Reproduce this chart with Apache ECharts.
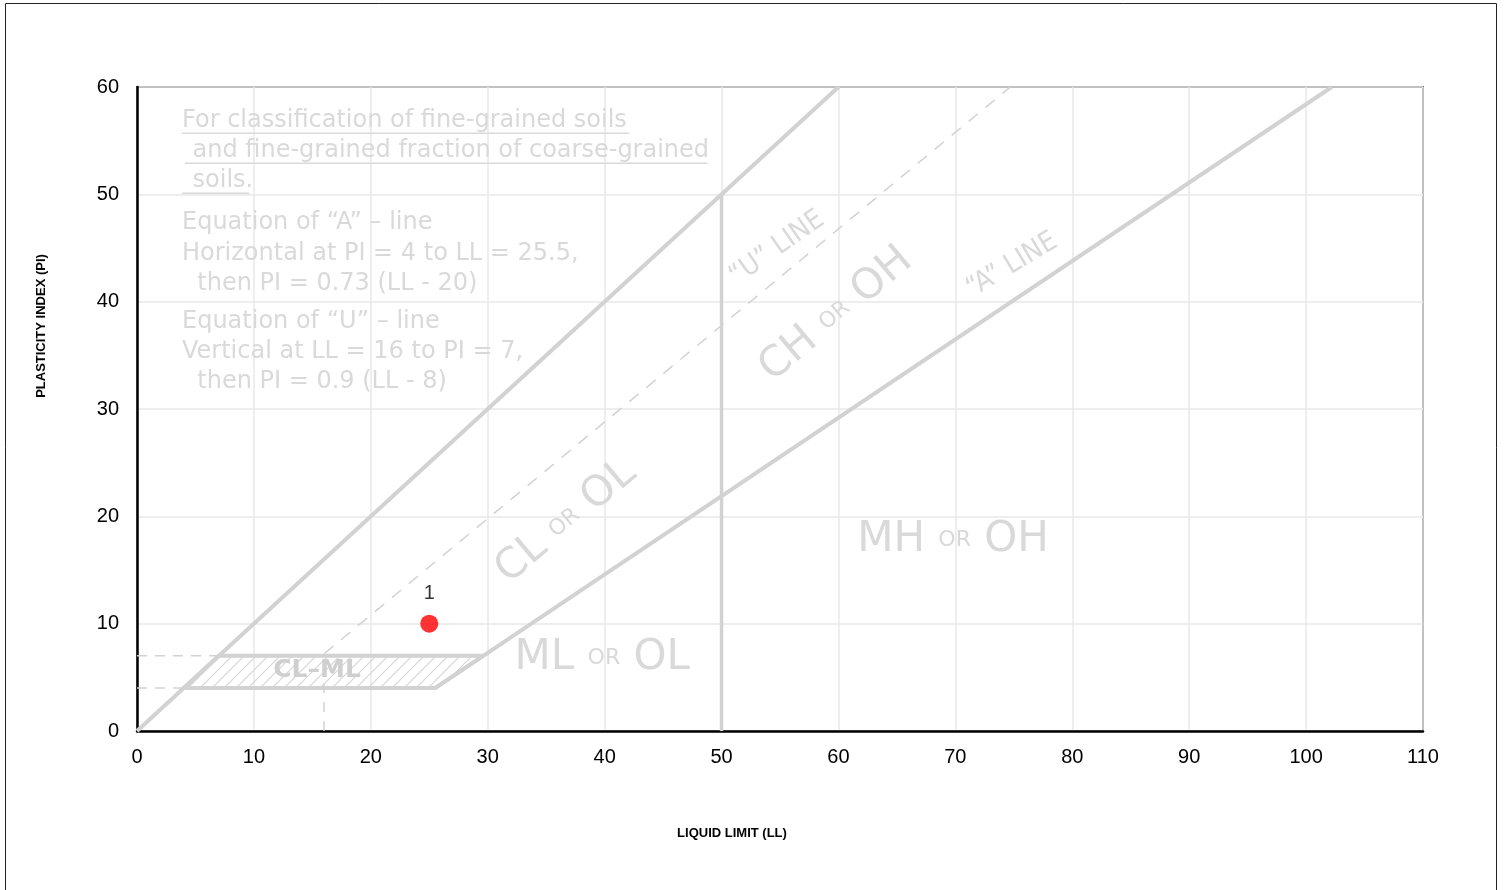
<!DOCTYPE html>
<html><head><meta charset="utf-8">
<script src="https://cdn.jsdelivr.net/npm/echarts@6/dist/echarts.min.js"></script>
<style>html,body{margin:0;padding:0;background:#fff}#c{width:1507px;height:890px}</style>
</head><body><div id="c"></div><script>
// ---- data (LL, PI) ----
const xRange = [0, 110];
const yRange = [0, 60];
const tickStep = 10;
const samples = [[25, 10, '1']];
const linePIeqLL = [[0, 0], [60, 60]];
const aLine = [[25.5, 4], [102.2, 60]];
const uLine = [[16, 7.2], [74.7, 60]];
const uVertical = [[16, 0], [16, 7]];
const llFifty = [[50, 0], [50, 50]];
const dashPI7 = [[0, 7], [7, 7]];
const dashPI4 = [[0, 4], [4, 4]];
const clmlZone = [[4, 4], [25.5, 4], [29.6, 7], [7, 7]];
const noteLines = [
  [3.85, 56.85, 'For classification of fine-grained soils'],
  [4.1, 54.05, ' and fine-grained fraction of coarse-grained'],
  [4.1, 51.26, ' soils.'],
  [3.85, 47.34, 'Equation of \u201cA\u201d \u2013 line'],
  [3.85, 44.45, 'Horizontal at PI = 4 to LL = 25.5,'],
  [3.85, 41.66, '  then PI = 0.73 (LL - 20)'],
  [3.85, 38.12, 'Equation of \u201cU\u201d \u2013 line'],
  [3.85, 35.32, 'Vertical at LL = 16 to PI = 7,'],
  [3.85, 32.53, '  then PI = 0.9 (LL - 8)']
];
const underlines = [
  [[3.85, 55.7], [42.1, 55.7]],
  [[4.1, 52.9], [48.8, 52.9]],
  [[3.85, 50.1], [9.6, 50.1]]
];
const zoneLabels = [
  [36.7, 19.5, 'CL', 'OL', 40],
  [59.8, 38.8, 'CH', 'OH', 40],
  [69.8, 17.8, 'MH', 'OH', 0],
  [39.8, 6.8, 'ML', 'OL', 0]
];
const lineLabels = [
  [54.75, 45.0, '\u201cU\u201d LINE', 35],
  [74.85, 43.4, '\u201cA\u201d LINE', 31]
];
const clmlLabel = [[15.4, 5.6, 'CL\u2013ML']];

// ---- styles ----
const GRAY = '#d2d2d2', TXT = '#d9d9d9', GRID = '#e8e8e8';
const pc = document.createElement('canvas'); pc.width = 12; pc.height = 12;
const g = pc.getContext('2d'); g.strokeStyle = '#d6d6d6'; g.lineWidth = 1.2;
g.beginPath(); g.moveTo(0, 12); g.lineTo(12, 0); g.moveTo(-6, 6); g.lineTo(6, -6); g.moveTo(6, 18); g.lineTo(18, 6); g.stroke();

function lineSeries(data, width, dash, color) {
  return { type: 'line', data: data, symbol: 'none', silent: true, z: 2,
    lineStyle: { color: color || GRAY, width: width, type: dash || 'solid' }, animation: false };
}
const chart = echarts.init(document.getElementById('c'), null, { renderer: 'canvas' });
chart.setOption({
  animation: false,
  backgroundColor: '#fff',
  grid: { left: 137, top: 87, right: 84, bottom: 159, show: true, borderColor: '#111', borderWidth: 1.5 },
  xAxis: { type: 'value', min: xRange[0], max: xRange[1], interval: tickStep,
    axisLine: { lineStyle: { color: '#000', width: 2.5 } }, axisTick: { show: false },
    axisLabel: { color: '#000', fontSize: 20, fontFamily: 'Liberation Sans, Arial', margin: 16 },
    splitLine: { lineStyle: { color: GRID, width: 1.5 } } },
  yAxis: { type: 'value', min: yRange[0], max: yRange[1], interval: tickStep,
    axisLine: { lineStyle: { color: '#000', width: 2.5 } }, axisTick: { show: false },
    axisLabel: { color: '#000', fontSize: 20, fontFamily: 'Liberation Sans, Arial', margin: 18 },
    splitLine: { lineStyle: { color: GRID, width: 1.5 } } },
  graphic: [
    { type: 'rect', shape: { x: 5.5, y: 3.5, width: 1491, height: 900 }, style: { fill: 'none', stroke: '#222', lineWidth: 1 }, z: 100 },
    { type: 'text', x: 732, y: 833, style: { text: 'LIQUID LIMIT (LL)', fill: '#000', font: 'bold 13px "Liberation Sans", Arial', align: 'center', verticalAlign: 'middle' } },
    { type: 'text', x: 41, y: 326, rotation: Math.PI / 2, style: { text: 'PLASTICITY INDEX (PI)', fill: '#000', font: 'bold 13px "Liberation Sans", Arial', align: 'center', verticalAlign: 'middle' } }
  ],
  series: [
    lineSeries(linePIeqLL, 4),
    lineSeries(aLine, 4),
    lineSeries(llFifty, 3.5),
    lineSeries(uLine, 1.5, [12, 10]),
    lineSeries(uVertical, 1.5, [10, 9]),
    lineSeries(dashPI7, 1.5, [10, 8]),
    lineSeries(dashPI4, 1.5, [10, 8]),
    ...underlines.map(u => lineSeries(u, 1.5, 'solid', TXT)),
    { type: 'custom', silent: true, z: 3, data: [0], renderItem: function (params, api) {
        const pts = clmlZone.map(p => api.coord(p));
        return { type: 'polygon', shape: { points: pts }, style: { fill: { image: pc, repeat: 'repeat' }, stroke: GRAY, lineWidth: 4 } };
      } },
    { type: 'custom', silent: true, z: 4, data: noteLines.map(d => [d[0], d[1]]), renderItem: function (params, api) {
        const p = api.coord([api.value(0), api.value(1)]);
        return { type: 'text', x: p[0], y: p[1], style: { text: noteLines[params.dataIndex][2], fill: TXT,
          font: '24px "DejaVu Sans"', align: 'left', verticalAlign: 'middle' } };
      } },
    { type: 'custom', silent: true, z: 4, data: zoneLabels.map(d => [d[0], d[1]]), renderItem: function (params, api) {
        const d = zoneLabels[params.dataIndex];
        const p = api.coord([api.value(0), api.value(1)]);
        return { type: 'text', x: p[0], y: p[1], rotation: d[4] * Math.PI / 180, style: {
          text: '{b|' + d[2] + '} {s|OR} {b|' + d[3] + '}', fill: TXT, font: '42px "DejaVu Sans"',
          align: 'center', verticalAlign: 'middle',
          rich: { b: { fontSize: 42, fontFamily: 'DejaVu Sans', fill: TXT },
                  s: { fontSize: 22, fontFamily: 'DejaVu Sans', fill: TXT } } } };
      } },
    { type: 'custom', silent: true, z: 4, data: lineLabels.map(d => [d[0], d[1]]), renderItem: function (params, api) {
        const d = lineLabels[params.dataIndex];
        const p = api.coord([api.value(0), api.value(1)]);
        return { type: 'text', x: p[0], y: p[1], rotation: d[3] * Math.PI / 180, style: {
          text: d[2], fill: TXT, font: '28px "DejaVu Sans Condensed"', align: 'center', verticalAlign: 'middle' } };
      } },
    { type: 'custom', silent: true, z: 4, data: clmlLabel.map(d => [d[0], d[1]]), renderItem: function (params, api) {
        const p = api.coord([api.value(0), api.value(1)]);
        return { type: 'text', x: p[0], y: p[1], style: {
          text: clmlLabel[params.dataIndex][2], fill: '#cfcfcf', font: 'bold 25px "DejaVu Sans"', align: 'center', verticalAlign: 'middle' } };
      } },
    { type: 'scatter', z: 10, data: samples.map(s => [s[0], s[1]]), symbolSize: 18,
      itemStyle: { color: '#ff0000' },
      label: { show: true, position: 'top', distance: 11, color: '#000', fontSize: 20, fontFamily: 'Liberation Sans, Arial',
        formatter: p => samples[p.dataIndex][2] } }
  ]
});
</script></body></html>
